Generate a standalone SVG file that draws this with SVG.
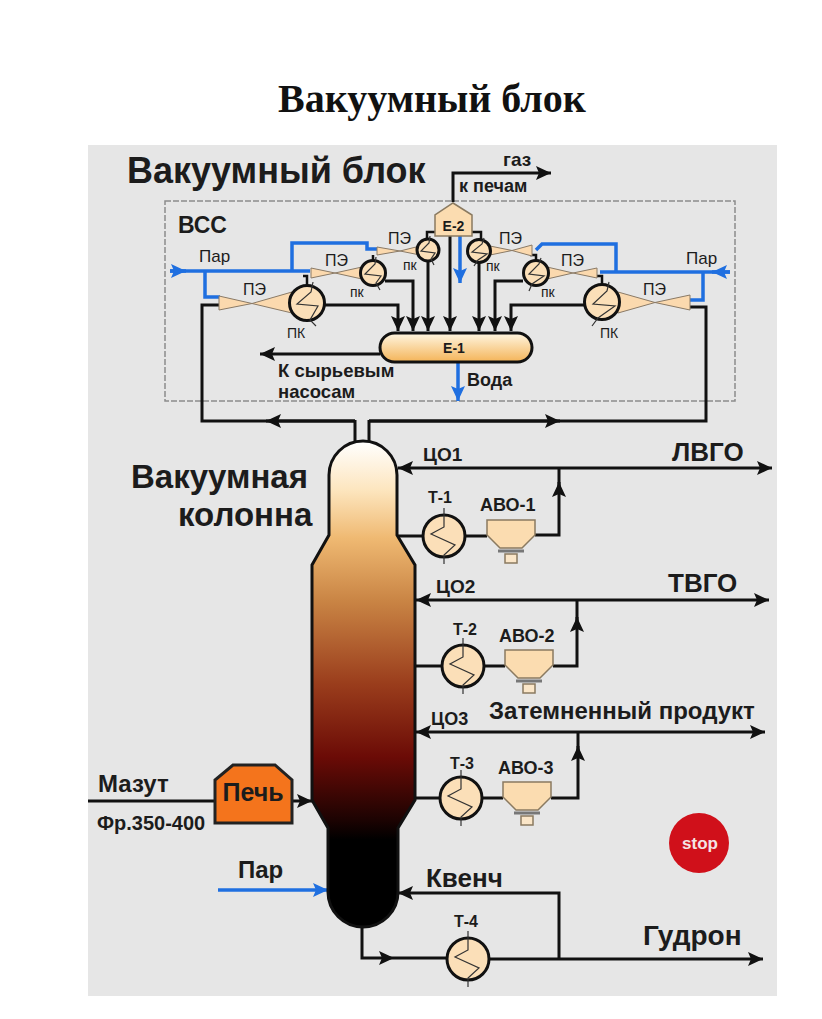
<svg xmlns="http://www.w3.org/2000/svg" width="822" height="1019" viewBox="0 0 822 1019">
<style>
text{font-family:"Liberation Sans",Arial,sans-serif;fill:#1c1c1c}
.b{font-weight:bold}
.t{font-family:"Liberation Serif","Times New Roman",serif;font-weight:bold;font-size:40px;fill:#111}
.k{fill:none;stroke:#111;stroke-width:3}
.kt{fill:none;stroke:#111;stroke-width:2.5}
.bl{fill:none;stroke:#1f6fe0;stroke-width:3.5}
.he{fill:#fbdfb8;stroke:#111;stroke-width:3}
.thin{fill:none;stroke:#333;stroke-width:1.2}
.ej{fill:#fbd9ae;stroke:#8a7a66;stroke-width:1}
.avo{fill:#fbdcb0;stroke:#8a7a60;stroke-width:1.5}
.s19{font-size:19px}.s18{font-size:18px}.s17{font-size:17px}.s16{font-size:16px}.s14{font-size:14px}
</style>
<defs>
<marker id="ah" markerUnits="userSpaceOnUse" markerWidth="16" markerHeight="16" refX="15" refY="8" orient="auto"><path d="M0 1L15 8L0 15L3 8Z" fill="#111"/></marker>
<marker id="ab" markerUnits="userSpaceOnUse" markerWidth="16" markerHeight="16" refX="15" refY="8" orient="auto"><path d="M0 1L15 8L0 15L3 8Z" fill="#1f6fe0"/></marker>
<linearGradient id="col" gradientUnits="userSpaceOnUse" x1="0" y1="441" x2="0" y2="927">
<stop offset="0" stop-color="#ffffff"/><stop offset=".1" stop-color="#fde6bf"/><stop offset=".2" stop-color="#efb972"/><stop offset=".33" stop-color="#c98444"/><stop offset=".5" stop-color="#9a3d1c"/><stop offset=".65" stop-color="#6b0b06"/><stop offset=".78" stop-color="#1c0302"/><stop offset=".82" stop-color="#000"/></linearGradient>
<linearGradient id="e1" x1="0" y1="0" x2="0" y2="1"><stop offset="0" stop-color="#fff6e2"/><stop offset="1" stop-color="#f4b458"/></linearGradient>
<g id="hx"><circle r="21" class="he"/><path class="thin" d="M0 -28V-9L-13 -2L11 9L0 19V28"/></g>
<g id="avo"><path class="avo" d="M0 0H48V15L35 28H13L0 15Z"/><path d="M11 31H37" stroke="#777" stroke-width="3" fill="none"/><rect x="18" y="34" width="12" height="9" fill="#fbe6c8" stroke="#8a7a60" stroke-width="1.5"/></g>
</defs>
<rect width="822" height="1019" fill="#ffffff"/>
<rect x="88" y="145" width="689" height="851" fill="#e6e6e6"/>
<text class="t" x="278" y="112">Вакуумный блок</text>
<text class="b" x="127" y="183" font-size="36">Вакуумный блок</text>
<rect x="165" y="201" width="570" height="200" fill="none" stroke="#8c8c8c" stroke-width="1.5" stroke-dasharray="6 2"/>
<text class="b" x="178" y="233" font-size="23">ВСС</text>

<g id="connectors">
<path class="k" d="M355 421H202V305H219"/><path class="k" d="M355 421H266" marker-end="url(#ah)"/>
<path class="k" d="M369 421H706V307H690"/><path class="k" d="M369 421H560" marker-end="url(#ah)"/>
<path class="bl" d="M170 271H310"/><path class="bl" d="M170 271H186" marker-end="url(#ab)"/>
<path class="bl" d="M205 271V297H220M292 271V243H367V249H377"/>
<path class="bl" d="M600 272H730"/><path class="bl" d="M730 272H712" marker-end="url(#ab)"/>
<path class="bl" d="M616 272V244H542L536 250M703 272V300H690"/>
<path class="bl" d="M460 236V283" marker-end="url(#ab)"/>
<path class="bl" d="M458 362V401" marker-end="url(#ab)"/>
<path class="k" d="M325 305H398V331" marker-end="url(#ah)"/>
<path class="k" d="M385 281H413V331" marker-end="url(#ah)"/>
<path class="k" d="M428 261V331" marker-end="url(#ah)"/>
<path class="k" d="M450 236V331" marker-end="url(#ah)"/>
<path class="k" d="M479 262V331" marker-end="url(#ah)"/>
<path class="k" d="M523 281H495V331" marker-end="url(#ah)"/>
<path class="k" d="M584 305H511V331" marker-end="url(#ah)"/>
<path class="kt" d="M427 239V232H435M472 232H481V240M307 286V276H303M373 260V255M536 260V255H530M602 284V276H597"/>
<path class="k" d="M380 354H260" marker-end="url(#ah)"/>
<path class="k" d="M453 202V173H551" marker-end="url(#ah)"/>
<path class="k" d="M355 441V420M369 441V420"/>
<path class="k" d="M559 468H398" marker-end="url(#ah)"/><path class="k" d="M559 468H772" marker-end="url(#ah)"/>
<path class="k" d="M397 536H423M465 536H487M535 535H559V482" marker-end="url(#ah)"/><path class="k" d="M559 490V468"/>
<path class="k" d="M577 600H416" marker-end="url(#ah)"/><path class="k" d="M577 600H769" marker-end="url(#ah)"/>
<path class="k" d="M415 666H442M484 666H505M553 666H577V617" marker-end="url(#ah)"/><path class="k" d="M577 625V600"/>
<path class="k" d="M578 732H416" marker-end="url(#ah)"/><path class="k" d="M578 732H765" marker-end="url(#ah)"/>
<path class="k" d="M415 798H440M482 798H503M551 798H578V746" marker-end="url(#ah)"/><path class="k" d="M578 754V732"/>
<path class="k" d="M88 801H215"/><path class="k" d="M292 801H312" marker-end="url(#ah)"/>
<path class="bl" d="M218 890H328" marker-end="url(#ab)"/>
<path class="k" d="M362 927V958H394" marker-end="url(#ah)"/><path class="k" d="M394 958H447M489 959H763" marker-end="url(#ah)"/>
<path class="k" d="M559 959V893H398" marker-end="url(#ah)"/>
</g>

<g id="ejectors">
<path class="ej" d="M219 296V310L252 303.500L292 313V292L252 303.500Z"/>
<path class="ej" d="M311 268V278L335 273L362 279V267L335 273Z"/>
<path class="ej" d="M377 247V255L400 251L420 255V246L400 251Z"/>
<path class="ej" d="M690 295V310L655 302.500L618 313V292L655 302.500Z"/>
<path class="ej" d="M597 268V278L573 273L547 279V267L573 273Z"/>
<path class="ej" d="M532 245V256L512 250.500L490 255V246L512 250.500Z"/>
</g>
<g id="pk-1"><circle cx="307" cy="303" r="17.500" class="he"/><path class="thin" d="M313 282L311 292L297 304L318 306L310 320L316 326"/></g>
<g id="pk-2"><circle cx="373" cy="273" r="12.500" class="he"/><path class="thin" d="M376 257L375 264L365 274L381 276L376 283L380 290"/></g>
<g id="pk-3"><circle cx="428" cy="250" r="11" class="he"/><path class="thin" d="M430 236L429 243L421 251L435 253L431 259L434 265"/></g>
<g id="pk-4"><circle cx="479" cy="251" r="11.500" class="he"/><path class="thin" d="M484 238L482 244L472 252L487 254L478 260L474 266"/></g>
<g id="pk-5"><circle cx="536" cy="273" r="12.500" class="he"/><path class="thin" d="M541 258L539 264L529 274L544 276L532 284L529 291"/></g>
<g id="pk-6"><circle cx="602" cy="302" r="17.500" class="he"/><path class="thin" d="M609 282L607 291L593 304L615 306L598 318L592 326"/></g>
<g id="E-2"><path d="M453 203L472 215V236H435V215Z" fill="#fbdcb0" stroke="#8a7a60" stroke-width="1.500"/><text class="b s14" x="453.500" y="231" text-anchor="middle">Е-2</text></g>
<g id="E-1"><rect x="380" y="333" width="152" height="29" rx="14.500" fill="url(#e1)" stroke="#111" stroke-width="3"/><text class="b s14" x="454" y="353" text-anchor="middle">Е-1</text></g>

<g id="column"><path d="M363 441A34 34 0 0 1 397 475V535L415 565V800L398 828V892A35 35 0 0 1 328 892V828L312 800V565L329 535V475A34 34 0 0 1 363 441Z" fill="url(#col)" stroke="#111" stroke-width="3"/></g>
<g id="T-1"><use href="#hx" x="444" y="536"/></g>
<g id="AVO-1"><use href="#avo" x="487" y="520"/></g>
<g id="T-2"><use href="#hx" x="463" y="666"/></g>
<g id="AVO-2"><use href="#avo" x="505" y="650"/></g>
<g id="T-3"><use href="#hx" x="461" y="798"/></g>
<g id="AVO-3"><use href="#avo" x="503" y="782"/></g>
<g id="T-4"><use href="#hx" x="468" y="959"/></g>
<g id="furnace"><path d="M233 765H275L292 780V823H215V780Z" fill="#f4741c" stroke="#222" stroke-width="3"/><text class="b" x="253" y="801" text-anchor="middle" font-size="25">Печь</text></g>
<g id="stop"><circle cx="699" cy="843" r="30" fill="#d0101a"/><text class="b s17" x="700" y="849" text-anchor="middle" style="fill:#f4e4e4">stop</text></g>

<g id="labels">
<text class="s17" x="199" y="262">Пар</text><text class="s17" x="686" y="264">Пар</text>
<text class="s16" x="243" y="295">ПЭ</text><text class="s16" x="325" y="266">ПЭ</text><text class="s16" x="388" y="244">ПЭ</text>
<text class="s16" x="499" y="244">ПЭ</text><text class="s16" x="561" y="266">ПЭ</text><text class="s16" x="643" y="295">ПЭ</text>
<text class="s14" x="287" y="338">ПК</text><text class="s14" x="350" y="297">пк</text><text class="s14" x="403" y="270">пк</text>
<text class="s14" x="486" y="271">пк</text><text class="s14" x="541" y="297">пк</text><text class="s14" x="600" y="338">ПК</text>
<text class="b s18" x="459" y="192">к печам</text><text class="b s19" x="503" y="166">газ</text>
<text class="b" font-size="18.500" x="278" y="377">К сырьевым</text><text class="b" font-size="18.500" x="278" y="398">насосам</text>
<text class="b s18" x="467" y="386">Вода</text>
<text class="b" x="131" y="488" font-size="33">Вакуумная</text><text class="b" x="178" y="526" font-size="33">колонна</text>
<text class="b s19" x="423" y="461">ЦО1</text><text class="b s19" x="436" y="593">ЦО2</text><text class="b s18" x="431" y="725">ЦО3</text>
<text class="b s16" x="428" y="503">Т-1</text><text class="b s18" x="480" y="511">АВО-1</text>
<text class="b s16" x="453" y="635">Т-2</text><text class="b s18" x="499" y="642">АВО-2</text>
<text class="b s16" x="450" y="769">Т-3</text><text class="b s18" x="498" y="774">АВО-3</text>
<text class="b s16" x="454" y="927">Т-4</text>
<text class="b" font-size="26" x="672" y="461">ЛВГО</text><text class="b" font-size="26" x="668" y="592">ТВГО</text>
<text class="b" x="489" y="719" font-size="24">Затемненный продукт</text>
<text class="b" x="643" y="945" font-size="28">Гудрон</text>
<text class="b" font-size="26" x="426" y="887">Квенч</text>
<text class="b" font-size="24" x="98" y="792">Мазут</text><text class="b" font-size="20" x="97" y="830">Фр.350-400</text>
<text class="b" font-size="24" x="238" y="878">Пар</text>
</g>
</svg>
